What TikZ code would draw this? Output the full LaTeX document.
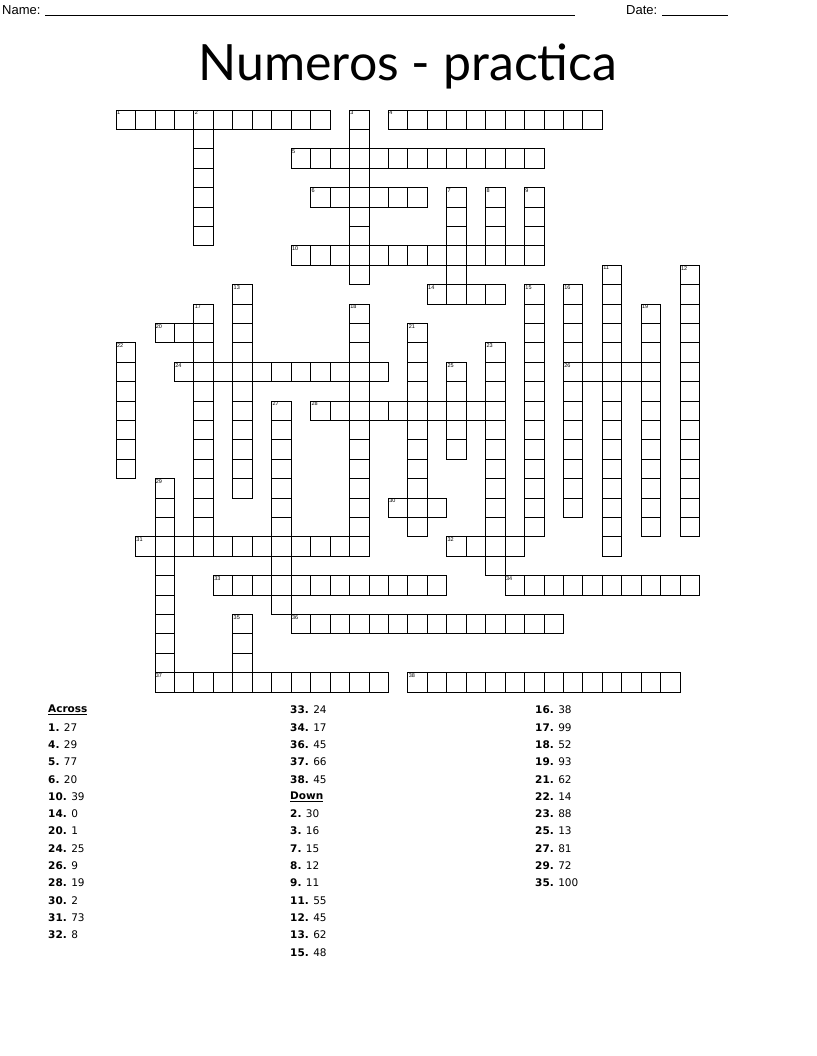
\documentclass[tikz,border=0pt]{standalone}
\usepackage{fontspec}
\setmainfont{Liberation Sans}
\newfontfamily\titlefont{Lato}
\newfontfamily\cluefont{DejaVu Sans}
\begin{document}
\begin{tikzpicture}[x=1pt,y=-1pt,
  cellbox/.style={draw=black,line width=0.7pt},
  numlab/.style={anchor=north west,inner sep=0.8pt,font=\fontsize{5.5}{5.5}\selectfont},
  cluetxt/.style={anchor=west,inner sep=0pt,font=\cluefont\fontsize{10.5}{10.5}\selectfont}]
\useasboundingbox (0,0) rectangle (816,1056);
\node[anchor=west,inner sep=0pt,font=\fontsize{13}{13}\selectfont] (nm) at (2,11) {Name: \rule[-1pt]{530pt}{0.5pt}};
\node[anchor=west,inner sep=0pt,font=\fontsize{13}{13}\selectfont] (dt) at (626,11) {Date: \rule[-1pt]{66pt}{0.5pt}};
\node[font=\titlefont\fontsize{50}{50}\selectfont] (title) at (408,66) {Numeros - practica};
\foreach \r/\c/\l/\n in {0/0/11/1,0/14/11/4,2/9/13/5,4/10/6/6,7/9/13/10,9/16/4/14,11/2/3/20,13/3/11/24,13/23/5/26,15/10/10/28,20/14/3/30,22/1/12/31,22/17/4/32,24/5/12/33,24/20/10/34,26/9/14/36,29/2/12/37,29/15/14/38}{
  \foreach \i in {1,...,\l}{
    \draw[cellbox] ({116+19.45*(\c+\i-1)},{110+19.4*\r}) rectangle ++(19.45,19.4);
  }
}
\foreach \r/\c/\l/\n in {0/4/7/2,0/12/9/3,4/17/6/7,4/19/4/8,4/21/4/9,8/25/15/11,8/29/14/12,9/6/11/13,9/21/13/15,9/23/12/16,10/4/13/17,10/12/13/18,10/27/12/19,11/15/11/21,12/0/7/22,12/19/12/23,13/17/5/25,15/8/11/27,19/2/11/29,26/6/4/35}{
  \foreach \i in {1,...,\l}{
    \draw[cellbox] ({116+19.45*\c},{110+19.4*(\r+\i-1)}) rectangle ++(19.45,19.4);
  }
}
\foreach \r/\c/\n in {0/0/1,0/4/2,0/12/3,0/14/4,2/9/5,4/10/6,4/17/7,4/19/8,4/21/9,7/9/10,8/25/11,8/29/12,9/6/13,9/16/14,9/21/15,9/23/16,10/4/17,10/12/18,10/27/19,11/2/20,11/15/21,12/0/22,12/19/23,13/3/24,13/17/25,13/23/26,15/8/27,15/10/28,19/2/29,20/14/30,22/1/31,22/17/32,24/5/33,24/20/34,26/6/35,26/9/36,29/2/37,29/15/38}{
  \node[numlab] at ({116+19.45*\c},{110+19.4*\r}) {\n};
}
\node[cluetxt] at (48,710) {\textbf{\underline{Across}}};
\foreach \a/\b [count=\k] in {1/27,4/29,5/77,6/20,10/39,14/0,20/1,24/25,26/9,28/19,30/2,31/73,32/8}{
  \node[cluetxt] at (48,{710+17.3*\k}) {\textbf{\a.} \b};
}
\foreach \a/\b [count=\k from 0] in {33/24,34/17,36/45,37/66,38/45}{
  \node[cluetxt] at (290,{710+17.3*\k}) {\textbf{\a.} \b};
}
\node[cluetxt] at (290,{710+17.3*5}) {\textbf{\underline{Down}}};
\foreach \a/\b [count=\k from 6] in {2/30,3/16,7/15,8/12,9/11,11/55,12/45,13/62,15/48}{
  \node[cluetxt] at (290,{710+17.3*\k}) {\textbf{\a.} \b};
}
\foreach \a/\b [count=\k from 0] in {16/38,17/99,18/52,19/93,21/62,22/14,23/88,25/13,27/81,29/72,35/100}{
  \node[cluetxt] at (535,{710+17.3*\k}) {\textbf{\a.} \b};
}
\end{tikzpicture}
\end{document}
